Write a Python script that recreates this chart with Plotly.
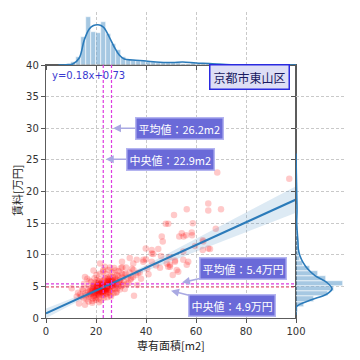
import plotly.graph_objects as go

# ---------------- data ----------------
area = [17.2,17.6,18.1,18.4,18.7,18.9,19.1,19.3,19.6,19.8,20.1,20.3,20.4,20.6,20.7,20.9,21.1,21.2,21.4,21.6,
        21.7,21.9,22.1,22.3,22.4,22.6,22.7,22.9,23.1,23.3,23.4,23.6,23.7,23.9,24.1,24.2,24.4,24.6,24.7,24.9,
        25.1,25.3,25.4,25.6,25.8,26.1,26.2,26.4,26.7,26.9,27.2,27.4,27.7,27.9,28.2,28.6,28.8,29.2,29.6,30.1,
        30.5,31.2,31.8,32.5,33.4,
        16.2,16.8,15.8,17.0,18.0,18.6,19.4,20.0,20.2,21.0,21.5,22.0,22.8,23.2,24.0,24.5,25.0,25.7,26.5,27.0,
        27.8,28.0,29.0,29.5,30.0,30.8,31.5,32.0,33.0,34.0,35.0,36.0,14.5,14.0,13.2,15.2,12.8,16.5,19.0,23.5,
        25.6,27.3,22.9,20.3,21.6,
        19.5,20.5,21.3,21.8,22.2,22.5,23.0,23.5,24.0,24.3,24.8,25.2,25.5,26.0,26.3,27.0,20.8,19.2,18.3,22.7,
        23.8,21.0,24.6,26.6,
        10.3,12.3,15.6,15.6,
        30.5,30.4,34.9,34.8,35.2,28.3,36.3,38.9,38.9,39.9,40.0,42.3,42.3,42.3,42.9,44.9,45.6,46.3,46.7,47.9,
        48.9,48.3,48.9,49.6,49.3,50.7,51.2,51.6,51.6,52.9,53.3,54.3,55.0,54.9,56.3,56.9,58.3,58.7,59.6,62.7,
        62.7,64.9,65.6,64.9,64.9,70.0,67.9,68.5,97.3,37.5,40.5,44.0,33.5,38.0,41.0,46.0,36.5,49.6,54.9,56.3,
        52.3,56.0,58.4,62.9,
        19.9,21.4,22.6,23.3,24.4,25.0,20.6,22.0,23.7,25.9,18.8,21.9,24.9,26.8,28.4,17.9,20.1,22.9,24.2,27.6,
        16.9,19.6,23.1,25.3,29.8,31.0,32.2,33.8,15.0,14.8,17.4,18.5,21.2,26.0,28.9,30.3,34.4,36.8,13.6,16.0,
        18.2,19.0,19.7,20.4,21.1,21.8,22.4,23.0,23.6,24.3,25.0,25.6,26.3,27.1,17.5,18.9,20.2,21.5,22.8,24.0,
        25.4,26.9,28.1,29.3,20.9,22.1,23.4,24.7,19.3,21.7]
rent = [3.4,4.3,3.9,4.8,3.1,4.4,5.3,3.7,4.1,5.6,3.4,4.5,4.9,3.9,5.5,4.2,4.7,3.6,5.1,4.4,
        6.1,3.9,4.8,5.3,4.1,5.8,4.5,3.6,5.0,4.3,5.5,4.7,6.3,3.9,5.2,4.4,5.9,4.8,5.4,4.1,
        5.6,4.6,6.2,5.0,5.4,4.4,5.9,5.2,4.8,6.0,5.5,4.6,6.4,5.1,5.8,4.7,6.6,5.4,6.0,5.0,
        6.4,5.9,7.0,6.4,7.2,
        3.0,4.8,3.9,2.6,5.7,2.7,6.3,2.9,6.8,3.1,7.0,2.8,7.3,3.2,7.0,3.3,7.6,3.6,7.2,3.9,
        7.5,4.0,7.4,4.5,7.9,5.2,4.6,8.0,5.5,6.3,7.6,6.8,4.6,3.4,2.3,5.4,4.0,6.2,7.5,8.1,
        8.0,7.9,7.6,6.0,8.6,
        4.6,4.3,4.9,5.4,4.3,5.0,4.6,5.0,4.6,5.1,5.7,5.2,4.4,5.6,5.0,5.2,5.2,4.0,4.1,3.9,
        4.2,5.8,6.4,6.5,
        4.7,3.4,6.5,2.1,
        8.0,8.9,8.6,6.5,3.5,4.1,9.2,9.2,8.9,11.0,9.3,8.9,10.75,10.2,10.1,10.9,7.95,12.9,12.1,14.9,
        14.9,8.6,8.1,8.1,9.6,6.8,16.3,9.1,8.9,7.3,12.9,13.4,12.9,10.5,17.2,8.9,13.5,15.0,11.4,12.3,
        10.75,11.0,10.9,18.1,17.0,17.2,14.1,23.0,22.0,7.2,7.8,8.3,9.5,6.2,6.9,9.8,5.2,8.4,9.2,8.4,
        7.6,13.1,13.1,12.1,
        4.5,4.1,5.2,4.8,4.9,5.9,3.7,5.5,4.4,6.6,5.0,4.7,6.1,5.9,6.8,3.6,4.8,5.1,3.8,5.3,
        4.2,3.2,6.0,4.0,5.7,6.9,5.4,6.1,3.1,4.3,5.9,2.4,2.5,3.4,5.0,7.0,7.8,7.1,3.7,3.6,
        4.4,4.9,4.0,5.0,4.6,5.0,4.7,5.3,4.9,4.7,5.1,5.5,5.3,5.7,3.8,3.5,4.3,3.8,4.2,4.6,
        5.8,5.4,6.1,5.6,4.4,4.1,4.6,5.3,5.1,5.3]

# top marginal histogram (bar centres, heights) and KDE
top_bins = [11,13,15,17,19,21,23,25,27,29,31,33,35,37,39,41,43,45,47,49,51,53,55,57,59,61,63,65,67,69,71]
top_counts = [3,8,28,47.6,33,32,43,31,21,15,8,5,5,4,4,3,3,2,2,2,2,2,1.5,1.5,2,1.5,1.5,1,1,1,0.5]
top_kde_x = [5,8,10.7,13.3,15.3,17.3,19,20.7,22,23.3,25.3,27.3,29.3,31.3,34.7,40,44,50.7,54.7,60,65.3,72,77.3,85,100]
top_kde_y = [0,0.3,1,7,25,36,39.5,40.3,39.5,37,28,18,10,6,5,4,3,2.5,3,2,1.5,0.5,0.2,0.1,0]

# right marginal histogram (bar centres, widths) and KDE
right_bins = [1.4,2.2,3.0,3.8,4.6,5.4,6.2,7.0,7.8,8.6,9.4,10.2,11.0,11.8,12.6,13.4,14.2,15.0,16.6,17.4,22.2]
right_counts = [2,8,18,32,38,47,30,22,14,7,4,3,3,2,1.5,1,1.5,1,0.5,0.5,0.5]
right_kde_y = [0.5,1.8,2.8,3.8,4.6,5.6,6.7,7.7,8.8,9.8,10.9,11.9,13.4,15,17,19.7,23,26]
right_kde_x = [0,0.5,14,31,36,31,19,12,7,4,2.3,2,1.3,0.7,1,0.7,0.3,0]

# regression line and confidence band
reg_x = [0, 100]
reg_y = [0.73, 18.73]
band_x = [0,10,20,26,30,40,50,60,70,80,90,100]
band_lo = [-0.03,2.05,4.07,5.21,5.90,7.48,9.02,10.55,12.07,13.59,15.11,16.63]
band_hi = [1.49,3.01,4.59,5.61,6.36,8.38,10.44,12.51,14.59,16.67,18.75,20.83]

mean_area, median_area = 26.2, 22.9
mean_rent, median_rent = 5.4, 4.9

# ---------------- figure ----------------
BLUE = "#2b7bba"
GRID = "#c9c9c9"
JP = "Noto Sans CJK JP"

fig = go.Figure()

fig.add_trace(go.Scatter(x=area, y=rent, mode="markers",
                         marker=dict(color="rgba(255,0,0,0.21)", size=6.5, line=dict(width=0)),
                         xaxis="x", yaxis="y", hoverinfo="skip"))
fig.add_trace(go.Scatter(x=band_x + band_x[::-1], y=band_hi + band_lo[::-1], fill="toself",
                         fillcolor="rgba(43,123,186,0.16)", line=dict(width=0), mode="lines",
                         xaxis="x", yaxis="y", hoverinfo="skip"))
fig.add_trace(go.Scatter(x=reg_x, y=reg_y, mode="lines", line=dict(color=BLUE, width=2),
                         xaxis="x", yaxis="y"))

fig.add_trace(go.Bar(x=top_bins, y=top_counts, width=2,
                     marker=dict(color="rgba(43,123,186,0.42)", line=dict(color="white", width=0.6)),
                     xaxis="x2", yaxis="y2"))
fig.add_trace(go.Scatter(x=top_kde_x, y=top_kde_y, mode="lines", line=dict(color=BLUE, width=1.6, shape="spline"),
                         xaxis="x2", yaxis="y2"))

fig.add_trace(go.Bar(y=right_bins, x=right_counts, width=0.8, orientation="h",
                     marker=dict(color="rgba(43,123,186,0.42)", line=dict(color="white", width=0.6)),
                     xaxis="x3", yaxis="y3"))
fig.add_trace(go.Scatter(x=right_kde_x, y=right_kde_y, mode="lines", line=dict(color=BLUE, width=1.6, shape="spline"),
                         xaxis="x3", yaxis="y3"))

# mean / median lines
for xv in (median_area, mean_area):
    fig.add_shape(type="line", x0=xv, x1=xv, y0=0, y1=40, xref="x", yref="y",
                  line=dict(color="#dc3ae0", width=1.2, dash="3px,2px"))
fig.add_shape(type="line", x0=0, x1=100, y0=mean_rent, y1=mean_rent, xref="x", yref="y",
              line=dict(color="#dc3ae0", width=1.2, dash="3px,2px"))
fig.add_shape(type="line", x0=0, x1=100, y0=median_rent, y1=median_rent, xref="x", yref="y",
              line=dict(color="#f0406a", width=1.2, dash="3px,2px"))

box = dict(bgcolor="#6a6ad8", bordercolor="#b4b4f0", borderwidth=1.5, borderpad=2,
           font=dict(family=JP, size=11, color="white"),
           arrowcolor="#a9a9e2", arrowwidth=1.6, arrowhead=2, arrowsize=1, showarrow=True,
           axref="x", ayref="y", xref="x", yref="y")

# The page body has an 8px margin, so the figure is drawn 8px in from the window edge.
# Plot area on screen: x 46..346 px, y 12..318 px.
OFF = 8
W = H = 360 - OFF
PW, PH = 300.0, 306.0
annotations = [
    dict(text="y=0.18x+0.73", x=1.6, y=38.4, xref="x", yref="y", xanchor="left", showarrow=False,
         font=dict(family="DejaVu Sans", size=10, color="#3a3ad0")),
    dict(text="京都市東山区", x=81.2, y=38.1, xref="x", yref="y", showarrow=False,
         bgcolor="#dedef5", bordercolor="#2a2ae0", borderwidth=1.5, borderpad=3,
         font=dict(family=JP, size=12, color="#1a1a60")),
    dict(text=f"平均値：{mean_area}m2", x=26.8, y=30, ax=53.2, ay=30, **box),
    dict(text=f"中央値：{median_area}m2", x=23.9, y=25.1, ax=49.6, ay=25.1, **box),
    dict(text=f"平均値：{mean_rent}万円", x=54.4, y=5.6, ax=78.8, ay=7.8, **box),
    dict(text=f"中央値：{median_rent}万円", x=50, y=4.3, ax=74.4, ay=1.9, **box),
    dict(text="専有面積[m2]", x=(171-46)/PW, y=(318-345)/PH, xref="paper", yref="paper", showarrow=False,
         xanchor="center", yanchor="middle", font=dict(family=JP, size=11, color="#222")),
    dict(text="賃料[万円]", x=(17-46)/PW, y=(318-191)/PH, xref="paper", yref="paper", showarrow=False,
         xanchor="center", yanchor="middle", textangle=-90, font=dict(family=JP, size=11, color="#222")),
]

xd = [0, 250/PW]
yd = [0, 253/PH]
common_tick = dict(ticks="outside", ticklen=4, tickwidth=1, tickcolor="#555", automargin=False,
                   showline=True, linecolor="#5c5c5c", linewidth=1.3, zeroline=False,
                   tickfont=dict(family="DejaVu Sans", size=10, color="#333"))
notick = {k: v for k, v in common_tick.items() if k != "tickfont"}

fig.update_layout(
    width=W, height=H,
    margin=dict(l=46-OFF, r=360-346, t=12-OFF, b=360-318, autoexpand=False),
    paper_bgcolor="white", plot_bgcolor="white", showlegend=False, bargap=0,
    annotations=annotations,
    xaxis=dict(domain=xd, range=[0, 100], tickvals=[0, 20, 40, 60, 80, 100], anchor="y", mirror=True,
               showgrid=True, gridcolor=GRID, griddash="3px,2px", gridwidth=0.8, **common_tick),
    yaxis=dict(domain=yd, range=[0, 40], tickvals=[0, 5, 10, 15, 20, 25, 30, 35, 40], anchor="x", mirror=True,
               showgrid=True, gridcolor=GRID, griddash="3px,2px", gridwidth=0.8, **common_tick),
    xaxis2=dict(domain=xd, matches="x", range=[0, 100], anchor="y2", tickvals=[0, 20, 40, 60, 80, 100],
                showticklabels=False, showgrid=True, gridcolor=GRID, griddash="3px,2px", gridwidth=0.8,
                **notick),
    yaxis2=dict(domain=[253/PH, 1], range=[0, 53], anchor="x2", showgrid=False, automargin=False,
                showticklabels=False, showline=False, zeroline=False, ticks=""),
    xaxis3=dict(domain=[250/PW, 1], range=[0, 50], anchor="y3", showgrid=False, automargin=False,
                showticklabels=False, showline=False, zeroline=False, ticks=""),
    yaxis3=dict(domain=yd, matches="y", range=[0, 40], anchor="x3", tickvals=[0, 5, 10, 15, 20, 25, 30, 35, 40],
                showticklabels=False, showgrid=True, gridcolor=GRID, griddash="3px,2px", gridwidth=0.8,
                **notick),
)

fig.write_html("out.html")
